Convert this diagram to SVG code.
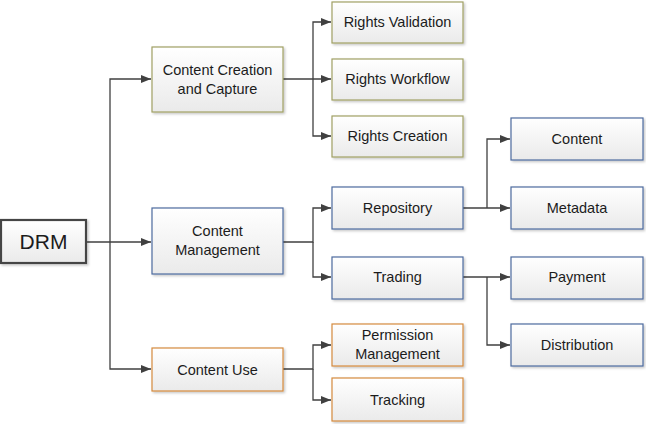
<svg xmlns="http://www.w3.org/2000/svg" width="646" height="424" viewBox="0 0 646 424">
<defs>
<linearGradient id="g" x1="0" y1="0" x2="0" y2="1"><stop offset="0" stop-color="#ffffff"/><stop offset="1" stop-color="#eaeaea"/></linearGradient>
<filter id="sh" x="-10%" y="-10%" width="130%" height="140%"><feDropShadow dx="1.5" dy="1.5" stdDeviation="1" flood-color="#000" flood-opacity="0.22"/></filter>
<marker id="ar" markerWidth="10" markerHeight="8" refX="10" refY="4" orient="auto" markerUnits="userSpaceOnUse"><path d="M0,0 L10,4 L0,8 Z" fill="#404040"/></marker>
<style>
rect{fill:url(#g);filter:url(#sh);stroke-width:1.2}
.ol{stroke:#a0a064}
.bl{stroke:#4d6b9e}
.or{stroke:#d58a3e}
.dr{stroke:#454545;stroke-width:2.2}
text{font-family:"Liberation Sans",Arial,sans-serif;font-size:14.5px;fill:#1c1c1c;text-anchor:middle}
.big{font-size:21px}
#connectors path{fill:none;stroke:#404040;stroke-width:1.3}
.a{marker-end:url(#ar)}
</style>
</defs>
<rect width="646" height="424" style="fill:#fff;filter:none;stroke:none"/>
<g id="connectors">
<path d="M86,242 H151" class="a"/>
<path d="M110,242 V79 H151" class="a"/>
<path d="M110,242 V369 H151" class="a"/>
<path d="M283,79 H331" class="a"/>
<path d="M313,79 V22 H331" class="a"/>
<path d="M313,79 V136 H331" class="a"/>
<path d="M283,242 H313 V208 H331" class="a"/>
<path d="M313,242 V277 H331" class="a"/>
<path d="M283,369 H313 V345 H331" class="a"/>
<path d="M313,369 V400 H331" class="a"/>
<path d="M463,208 H510" class="a"/>
<path d="M487,208 V139 H510" class="a"/>
<path d="M463,277 H510" class="a"/>
<path d="M487,277 V345 H510" class="a"/>
</g>
<g id="drm"><rect class="dr" x="1" y="220" width="85" height="43"/><text class="big" x="43.5" y="249">DRM</text></g>
<g id="content-creation"><rect class="ol" x="152" y="47" width="131" height="65"/><text x="217.5" y="75">Content Creation</text><text x="217.5" y="94">and Capture</text></g>
<g id="content-management"><rect class="bl" x="152" y="208" width="131" height="66"/><text x="217.5" y="236">Content</text><text x="217.5" y="255">Management</text></g>
<g id="content-use"><rect class="or" x="152" y="348" width="131" height="43"/><text x="217.5" y="374.5">Content Use</text></g>
<g id="rights-validation"><rect class="ol" x="332" y="2" width="131" height="41"/><text x="397.5" y="27">Rights Validation</text></g>
<g id="rights-workflow"><rect class="ol" x="332" y="59" width="131" height="41"/><text x="397.5" y="84">Rights Workflow</text></g>
<g id="rights-creation"><rect class="ol" x="332" y="116" width="131" height="41"/><text x="397.5" y="141">Rights Creation</text></g>
<g id="repository"><rect class="bl" x="332" y="187" width="131" height="42"/><text x="397.5" y="213">Repository</text></g>
<g id="trading"><rect class="bl" x="332" y="257" width="131" height="42"/><text x="397.5" y="282">Trading</text></g>
<g id="permission-management"><rect class="or" x="332" y="324" width="131" height="42"/><text x="397.5" y="340">Permission</text><text x="397.5" y="359">Management</text></g>
<g id="tracking"><rect class="or" x="332" y="378" width="131" height="43"/><text x="397.5" y="405">Tracking</text></g>
<g id="content"><rect class="bl" x="511" y="118" width="132" height="42"/><text x="577" y="144">Content</text></g>
<g id="metadata"><rect class="bl" x="511" y="187" width="132" height="42"/><text x="577" y="213">Metadata</text></g>
<g id="payment"><rect class="bl" x="511" y="257" width="132" height="42"/><text x="577" y="282">Payment</text></g>
<g id="distribution"><rect class="bl" x="511" y="324" width="132" height="42"/><text x="577" y="350">Distribution</text></g>
</svg>
